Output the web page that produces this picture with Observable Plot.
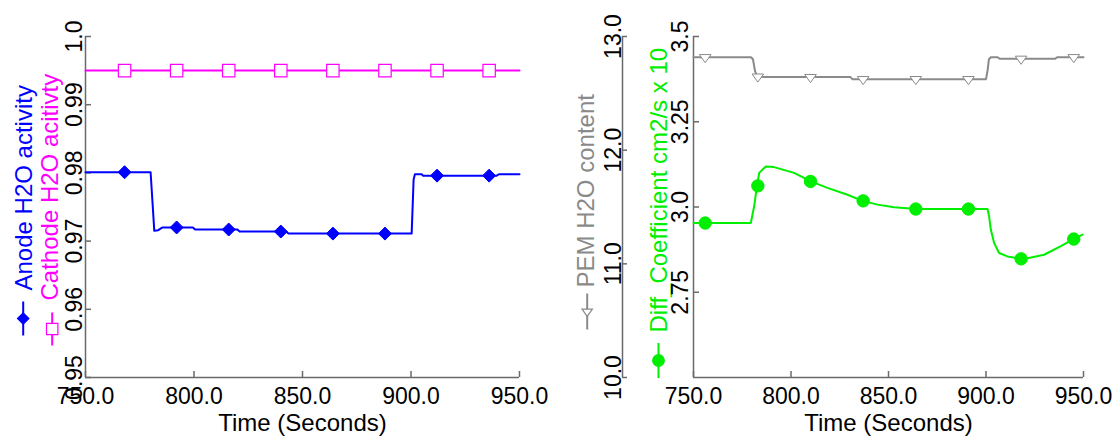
<!DOCTYPE html>
<html><head><meta charset="utf-8">
<script src="https://cdn.jsdelivr.net/npm/d3@7"></script>
<script src="https://cdn.jsdelivr.net/npm/@observablehq/plot@0.6"></script>
<style>
html,body{margin:0;padding:0;background:#fff;}
#chart{position:relative;width:1118px;height:437px;overflow:hidden;background:#fff;}
</style></head><body><div id="chart"></div>
<script>
// ---------- data ----------
const xDomain = [750, 950];
const xTicks = [750, 800, 850, 900, 950];
const xTickLabels = ["750.0", "800.0", "850.0", "900.0", "950.0"];
const xTitle = "Time (Seconds)";

const actDomain = [0.95, 1.0];
const actTicks = [0.95, 0.96, 0.97, 0.98, 0.99, 1.0];
const actTickLabels = ["0.95", "0.96", "0.97", "0.98", "0.99", "1.0"];

const anodeT = [750, 780, 781.7, 783.5, 785.5, 799.5, 800.5, 820, 821, 842.5, 843.5, 900.3, 901.2, 901.8, 905, 905.5, 939.5, 940.5, 950];
const anodeV = [0.9801, 0.9801, 0.9715, 0.9716, 0.9720, 0.9720, 0.9717, 0.9717, 0.9714, 0.9714, 0.9711, 0.9711, 0.9790, 0.9798, 0.9798, 0.9796, 0.9796, 0.9798, 0.9798];
const anodeMarkT = [768, 792, 816, 840, 864, 888, 912, 936];
const anodeMarkV = [0.9801, 0.9720, 0.9717, 0.9714, 0.9711, 0.9711, 0.9796, 0.9796];

const cathodeT = [750, 950];
const cathodeV = [0.995, 0.995];
const cathodeMarkT = [768, 792, 816, 840, 864, 888, 912, 936];
const cathodeMarkV = [0.995, 0.995, 0.995, 0.995, 0.995, 0.995, 0.995, 0.995];

const pemDomain = [10, 13];
const pemTicks = [10, 11, 12, 13];
const pemTickLabels = ["10.0", "11.0", "12.0", "13.0"];
const pemT = [750, 779.5, 780.5, 781.5, 782.5, 784, 830.5, 831.5, 900, 900.8, 901.5, 902.5, 906, 907, 935.5, 936.5, 950];
const pemV = [12.818, 12.818, 12.80, 12.70, 12.649, 12.643, 12.643, 12.625, 12.625, 12.70, 12.80, 12.818, 12.818, 12.804, 12.804, 12.818, 12.818];
const pemMarkT = [756, 783, 810, 837, 864, 891, 918, 945];
const pemMarkV = [12.818, 12.647, 12.643, 12.625, 12.625, 12.625, 12.804, 12.818];

const diffDomain = [2.5, 3.5];
const diffTicks = [2.75, 3.0, 3.25, 3.5];
const diffTickLabels = ["2.75", "3.0", "3.25", "3.5"];
const diffT = [750, 779.4, 781.1, 782.5, 783.7, 787.1, 791.3, 801.6, 810.2, 818.7, 829.0, 836.7, 844.4, 852.9, 864.4, 890.9, 900.8, 901.6, 902.5, 904.2, 906.7, 911.0, 918.4, 921.3, 929.8, 938.4, 944.9, 949.5];
const diffV = [2.953, 2.953, 3.002, 3.060, 3.100, 3.119, 3.117, 3.100, 3.075, 3.056, 3.036, 3.018, 3.007, 2.999, 2.994, 2.994, 2.994, 2.972, 2.933, 2.894, 2.865, 2.855, 2.848, 2.850, 2.860, 2.885, 2.906, 2.919];
const diffMarkT = [756, 783, 810, 837, 864, 891, 918, 945];
const diffMarkV = [2.953, 3.062, 3.075, 3.018, 2.994, 2.994, 2.848, 2.906];

const legendLabels = ["Anode H2O activity", "Cathode H2O acitivty", "PEM H2O content", "Diff_Coefficient cm2/s x 10"];

// ---------- styling ----------
const FONT = "'Liberation Sans', Arial, Helvetica, sans-serif";
const AXIS = "#6a6a6a";
const BLUE = "#0000ff", MAGENTA = "#ff00ff", GRAY = "#8a8a8a", GREEN = "#00ee00";
const TICK_FS = 23, TITLE_FS = 24;

const zip = (T, V) => T.map((t, i) => ({t, v: V[i]}));

function rOf(size) { return Math.sqrt(size / Math.PI); }
const diamondSym = {draw(c, s) { const r = rOf(s); c.moveTo(0, -r); c.lineTo(r, 0); c.lineTo(0, r); c.lineTo(-r, 0); c.closePath(); }};
const squareSym = {draw(c, s) { const r = rOf(s); c.moveTo(-r, -r); c.lineTo(r, -r); c.lineTo(r, r); c.lineTo(-r, r); c.closePath(); }};
const triDownSym = {draw(c, s) { const r = rOf(s); c.moveTo(-r, -0.45 * r); c.lineTo(r, -0.45 * r); c.lineTo(0, 0.95 * r); c.closePath(); }};
const circleSym = {draw(c, s) { const r = rOf(s); c.moveTo(r, 0); c.arc(0, 0, r, 0, 2 * Math.PI); }};
const vbarSym = {draw(c, s) { const r = rOf(s); c.moveTo(0, -r); c.lineTo(0, r); }};

function legendMarks(label, color, sym, symR, symFill, txt, bar) {
  return [
    Plot.text([label], {frameAnchor: "bottom-left", rotate: -90, textAnchor: "start", lineAnchor: "bottom",
      dx: txt[0], dy: txt[1], fill: color, fontSize: TITLE_FS}),
    Plot.dot([0], {frameAnchor: "bottom-left", dx: bar[0], dy: bar[1], symbol: vbarSym, r: bar[2],
      fill: "none", stroke: color, strokeWidth: 2}),
    Plot.dot([0], {frameAnchor: "bottom-left", dx: bar[0], dy: bar[1], symbol: sym, r: symR,
      fill: symFill, stroke: color, strokeWidth: 1.2})
  ];
}

function xAxisMarks() {
  return [
    Plot.ruleX([xDomain[0]], {stroke: AXIS, strokeWidth: 1.5}),
    Plot.axisX(xTicks, {tickSize: -6, fill: "none", stroke: AXIS, strokeWidth: 1.5, label: null}),
    Plot.text(xTicks, {x: d => d, text: (d, i) => xTickLabels[i], frameAnchor: "bottom", lineAnchor: "top",
      dy: 10, fontSize: TICK_FS, fill: "#000"}),
    Plot.text([xTitle], {frameAnchor: "bottom", lineAnchor: "bottom", dy: 53, fontSize: TITLE_FS, fill: "#000"})
  ];
}

const chart = document.getElementById("chart");
function place(svg, left) {
  svg.style.position = "absolute";
  svg.style.left = left + "px";
  svg.style.top = "0px";
  chart.appendChild(svg);
}

// ---------- left panel ----------
const leftPlot = Plot.plot({
  width: 560, height: 437,
  marginLeft: 85, marginRight: 41, marginTop: 36, marginBottom: 60,
  x: {domain: xDomain, axis: null},
  y: {domain: actDomain, axis: null},
  style: {fontFamily: FONT, background: "transparent", overflow: "visible"},
  marks: [
    Plot.ruleY([actDomain[0]], {stroke: AXIS, strokeWidth: 1.5}),
    ...xAxisMarks(),
    Plot.axisY(actTicks, {tickSize: -6, fill: "none", stroke: AXIS, strokeWidth: 1.5, label: null}),
    Plot.text(actTicks, {y: d => d, text: (d, i) => actTickLabels[i], frameAnchor: "left", rotate: -90,
      textAnchor: "middle", lineAnchor: "bottom", dx: -3.5, fontSize: TICK_FS, fill: "#000"}),
    Plot.line(zip(cathodeT, cathodeV), {x: "t", y: "v", stroke: MAGENTA, strokeWidth: 2}),
    Plot.line(zip(anodeT, anodeV), {x: "t", y: "v", stroke: BLUE, strokeWidth: 2}),
    Plot.dot(zip(cathodeMarkT, cathodeMarkV), {x: "t", y: "v", symbol: squareSym, r: 6.2, fill: "white", stroke: MAGENTA, strokeWidth: 1.2}),
    Plot.dot(zip(anodeMarkT, anodeMarkV), {x: "t", y: "v", symbol: diamondSym, r: 6.5, fill: BLUE, stroke: BLUE, strokeWidth: 1}),
    ...legendMarks(legendLabels[0], BLUE, diamondSym, 5.7, BLUE, [-54, -87], [-62.3, -59, 17]),
    ...legendMarks(legendLabels[1], MAGENTA, squareSym, 5.7, "white", [-28, -77], [-33.3, -48.5, 16.5])
  ]
});
place(leftPlot, 0);

// ---------- right panel (PEM scale) ----------
const PEM_DX = -71;
const rightPlot = Plot.plot({
  width: 558, height: 437,
  marginLeft: 133, marginRight: 35, marginTop: 36, marginBottom: 60,
  x: {domain: xDomain, axis: null},
  y: {domain: pemDomain, axis: null},
  style: {fontFamily: FONT, background: "transparent", overflow: "visible"},
  marks: [
    Plot.ruleY([pemDomain[0]], {stroke: AXIS, strokeWidth: 1.5}),
    ...xAxisMarks(),
    Plot.ruleX([xDomain[0]], {dx: PEM_DX, stroke: AXIS, strokeWidth: 1.5}),
    Plot.axisY(pemTicks, {tickSize: -5, dx: PEM_DX, fill: "none", stroke: AXIS, strokeWidth: 1.5, label: null}),
    Plot.text(pemTicks, {y: d => d, text: (d, i) => pemTickLabels[i], frameAnchor: "left", rotate: -90,
      textAnchor: "middle", lineAnchor: "bottom", dx: PEM_DX - 2, fontSize: TICK_FS, fill: "#000"}),
    Plot.line(zip(pemT, pemV), {x: "t", y: "v", stroke: GRAY, strokeWidth: 2}),
    Plot.dot(zip(pemMarkT, pemMarkV), {x: "t", y: "v", symbol: triDownSym, r: 5.8, fill: "white", stroke: GRAY, strokeWidth: 1}),
    ...legendMarks(legendLabels[2], GRAY, triDownSym, 5.2, "white", [-100, -90], [-106.3, -66, 18]),
    ...legendMarks(legendLabels[3], GREEN, circleSym, 5.8, GREEN, [-27, -45], [-35, -17, 17.5])
  ]
});
place(rightPlot, 560);

// ---------- right panel overlay (Diff coefficient scale) ----------
const diffPlot = Plot.plot({
  width: 558, height: 437,
  marginLeft: 133, marginRight: 35, marginTop: 36, marginBottom: 60,
  x: {domain: xDomain, axis: null},
  y: {domain: diffDomain, axis: null},
  style: {fontFamily: FONT, background: "none", overflow: "visible"},
  marks: [
    Plot.axisY(diffTicks, {tickSize: -6, fill: "none", stroke: AXIS, strokeWidth: 1.5, label: null}),
    Plot.text(diffTicks, {y: d => d, text: (d, i) => diffTickLabels[i], frameAnchor: "left", rotate: -90,
      textAnchor: "middle", lineAnchor: "bottom", dx: -6, fontSize: TICK_FS, fill: "#000"}),
    Plot.line(zip(diffT, diffV), {x: "t", y: "v", stroke: GREEN, strokeWidth: 2}),
    Plot.dot(zip(diffMarkT, diffMarkV), {x: "t", y: "v", symbol: circleSym, r: 6.2, fill: GREEN, stroke: GREEN, strokeWidth: 1})
  ]
});
place(diffPlot, 560);
</script>
</body></html>
